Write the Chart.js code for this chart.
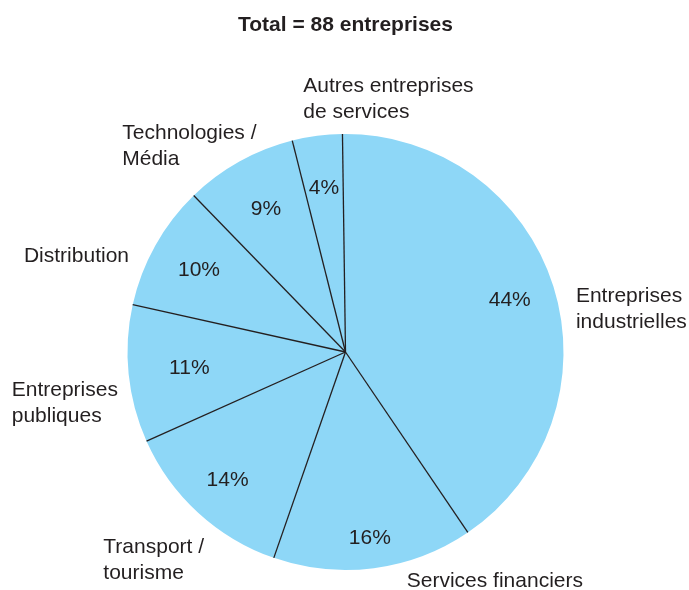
<!DOCTYPE html>
<html lang="fr">
<head>
<meta charset="utf-8">
<title>Total = 88 entreprises</title>
<script src="https://cdn.jsdelivr.net/npm/chart.js@4/dist/chart.umd.min.js"></script>
<style>
  html, body { margin: 0; padding: 0; background: #ffffff; }
  #wrap { width: 689px; height: 590px; }
</style>
</head>
<body>
<div id="wrap"><canvas id="pie" width="689" height="590"></canvas></div>
<script>
// Répartition des entreprises par secteur (sens horaire depuis le haut)
const sectors = [
  ['Entreprises', 'industrielles'],
  ['Services financiers'],
  ['Transport /', 'tourisme'],
  ['Entreprises', 'publiques'],
  ['Distribution'],
  ['Technologies /', 'Média'],
  ['Autres entreprises', 'de services']
];
const shares = [44, 16, 14, 11, 10, 9, 4];
const chartTitle = 'Total = 88 entreprises';

// Placement des libellés, en rayons depuis le centre du camembert
const nameOffsets = [
  [1.057, -0.197], [0.281, 1.050], [-1.111, 0.954], [-1.531, 0.234],
  [-1.475, -0.438], [-1.024, -0.943], [-0.194, -1.159]
];
const pctRadius = [0.79, 0.86, 0.80, 0.72, 0.77, 0.75, 0.76];

const INK = '#231f20';
const FILL = '#8ed7f7';
const FONT = '"Liberation Sans", Arial, Helvetica, sans-serif';

// Traits de séparation entre les parts (sans contour extérieur)
const separators = {
  id: 'separators',
  afterDatasetsDraw(chart) {
    const arcs = chart.getDatasetMeta(0).data;
    const ctx = chart.ctx;
    ctx.save();
    ctx.strokeStyle = INK;
    ctx.lineWidth = 1.3;
    arcs.forEach(a => {
      const p = a.getProps(['x', 'y', 'startAngle', 'outerRadius'], true);
      ctx.beginPath();
      ctx.moveTo(p.x, p.y);
      ctx.lineTo(p.x + p.outerRadius * Math.cos(p.startAngle),
                 p.y + p.outerRadius * Math.sin(p.startAngle));
      ctx.stroke();
    });
    ctx.restore();
  }
};

// Pourcentages dans les parts et noms des secteurs autour
const sliceLabels = {
  id: 'sliceLabels',
  afterDraw(chart) {
    const arcs = chart.getDatasetMeta(0).data;
    const ctx = chart.ctx;
    ctx.save();
    ctx.fillStyle = INK;
    ctx.font = '21px ' + FONT;
    ctx.textBaseline = 'middle';
    arcs.forEach((a, i) => {
      const p = a.getProps(['x', 'y', 'startAngle', 'endAngle', 'outerRadius'], true);
      const mid = (p.startAngle + p.endAngle) / 2;
      const rr = p.outerRadius * pctRadius[i];
      ctx.textAlign = 'center';
      ctx.fillText(shares[i] + '%', p.x + rr * Math.cos(mid), p.y + rr * Math.sin(mid));

      const lines = sectors[i];
      const lh = 25.5;
      const ax = p.x + nameOffsets[i][0] * p.outerRadius;
      const ay = p.y + nameOffsets[i][1] * p.outerRadius;
      ctx.textAlign = 'left';
      lines.forEach((t, k) => {
        ctx.fillText(t, ax, ay + (k - (lines.length - 1) / 2) * lh);
      });
    });
    ctx.restore();
  }
};

new Chart(document.getElementById('pie'), {
  type: 'pie',
  data: {
    labels: sectors.map(s => s.join(' ')),
    datasets: [{
      data: shares,
      backgroundColor: FILL,
      borderWidth: 0
    }]
  },
  options: {
    responsive: false,
    animation: false,
    rotation: -0.8,
    layout: { padding: { left: 127.5, right: 125.5, top: 0, bottom: 20 } },
    plugins: {
      legend: { display: false },
      tooltip: { enabled: false },
      title: {
        display: true,
        text: chartTitle,
        color: INK,
        font: { family: FONT, size: 21, weight: 'bold', lineHeight: 1.2 },
        padding: { top: 12.4, bottom: 96.4 }
      }
    }
  },
  plugins: [separators, sliceLabels]
});
</script>
</body>
</html>
